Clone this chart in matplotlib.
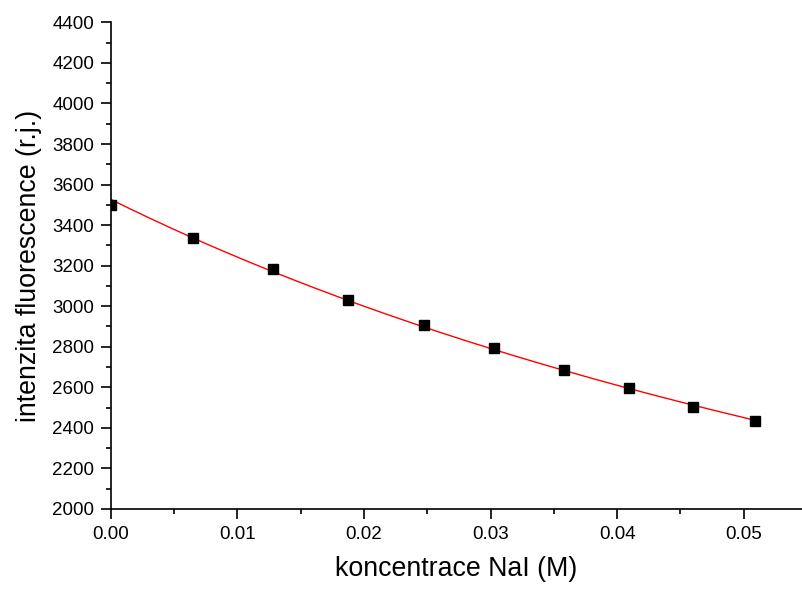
import numpy as np
import matplotlib
matplotlib.use("Agg")
import matplotlib.pyplot as plt
from matplotlib.ticker import MultipleLocator

plt.rcParams['font.family'] = ['Liberation Sans', 'DejaVu Sans']

# NaI concentration (M) and measured fluorescence intensity
conc = [0.0, 0.00652, 0.01279, 0.01873, 0.02474, 0.03024, 0.03577, 0.04093, 0.04598, 0.05085]
intensity = [3500, 3336, 3184, 3031, 2908, 2794, 2686, 2596, 2502, 2434]

# Stern-Volmer fit: I0/I = 1 + K*c  ->  1/I = 1/I0 + (K/I0)*c
x = np.array(conc)
y = np.array(intensity)
b, a = np.polyfit(x, 1.0 / y, 1)
xf = np.linspace(0, x.max(), 200)
yf = 1.0 / (a + b * xf)

fig = plt.figure(figsize=(8.02, 5.89), dpi=100)
ax = fig.add_axes([0.138, 0.136, 0.862, 0.826])

ax.plot(xf, yf, color='red', lw=1.0, zorder=2)
ax.plot(x, y, 's', color='black', ms=7, zorder=3)

ax.set_xlim(0, 0.0546)
ax.set_ylim(2000, 4400)
ax.xaxis.set_major_locator(MultipleLocator(0.01))
ax.xaxis.set_minor_locator(MultipleLocator(0.005))
ax.yaxis.set_major_locator(MultipleLocator(200))
ax.yaxis.set_minor_locator(MultipleLocator(100))
ax.xaxis.set_major_formatter(plt.FormatStrFormatter('%.2f'))

for s in ['top', 'right']:
    ax.spines[s].set_visible(False)
for s in ['left', 'bottom']:
    ax.spines[s].set_linewidth(1.2)

ax.tick_params(which='major', direction='out', length=7, width=1.2, labelsize=13.5, pad=5)
ax.tick_params(which='minor', direction='out', length=3.6, width=1.2)

ax.set_xlabel('koncentrace NaI (M)', fontsize=19.3, labelpad=10)
ax.set_ylabel('intenzita fluorescence (r.j.)', fontsize=19.3, labelpad=7)

fig.savefig('out.png', dpi=100)
